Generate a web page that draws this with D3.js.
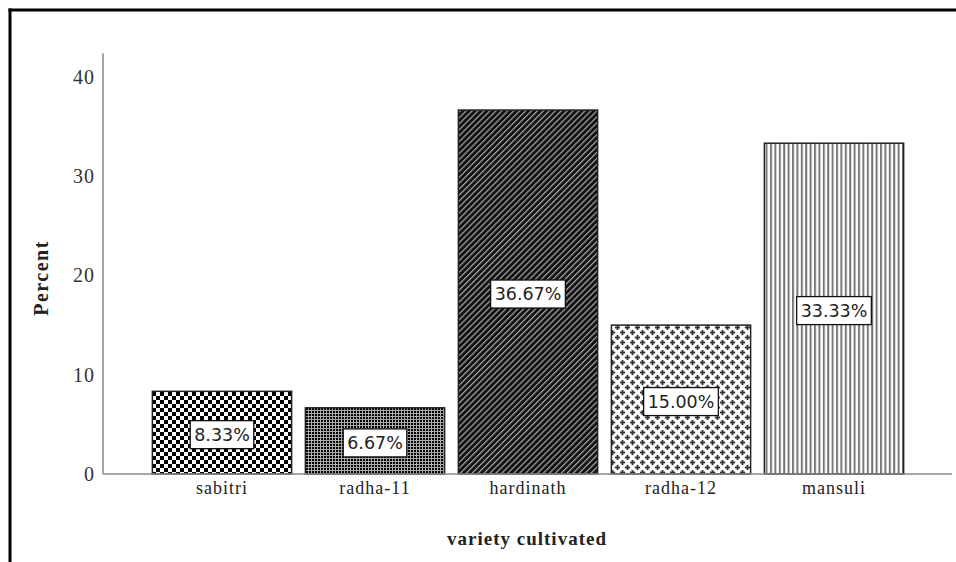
<!DOCTYPE html>
<html>
<head>
<meta charset="utf-8">
<script src="https://cdn.jsdelivr.net/npm/d3@7/dist/d3.min.js"></script>
<style>
html,body{margin:0;padding:0;background:#fff;}
svg{display:block;}
</style>
</head>
<body>
<svg id="chart" width="956" height="562"></svg>
<script>
const categories = ["sabitri", "radha-11", "hardinath", "radha-12", "mansuli"];
const percents = [8.33, 6.67, 36.67, 15.00, 33.33];
const barLabels = ["8.33%", "6.67%", "36.67%", "15.00%", "33.33%"];
const yTicks = [0, 10, 20, 30, 40];
const patternIds = ["pChecker", "pGrid", "pDiag", "pCross", "pVert"];

const svg = d3.select("#chart");
const defs = svg.append("defs");

// checkerboard
let p = defs.append("pattern").attr("id","pChecker").attr("patternUnits","userSpaceOnUse").attr("width",8).attr("height",8);
p.append("rect").attr("width",8).attr("height",8).attr("fill","#fff");
p.append("rect").attr("width",4).attr("height",4).attr("fill","#000");
p.append("rect").attr("x",4).attr("y",4).attr("width",4).attr("height",4).attr("fill","#000");
// fine grid
p = defs.append("pattern").attr("id","pGrid").attr("patternUnits","userSpaceOnUse").attr("width",3).attr("height",3);
p.append("rect").attr("width",3).attr("height",3).attr("fill","#aaa");
p.append("rect").attr("width",2).attr("height",2).attr("fill","#000");
// diagonal
p = defs.append("pattern").attr("id","pDiag").attr("patternUnits","userSpaceOnUse").attr("width",4.2).attr("height",4.2).attr("patternTransform","rotate(45)");
p.append("rect").attr("width",4.2).attr("height",4.2).attr("fill","#111");
p.append("rect").attr("x",0).attr("width",1.2).attr("height",4.2).attr("fill","#aaa");
// crosses
p = defs.append("pattern").attr("id","pCross").attr("patternUnits","userSpaceOnUse").attr("width",10).attr("height",10);
p.append("rect").attr("width",10).attr("height",10).attr("fill","#fff");
[[2.5,2.5],[7.5,7.5]].forEach(([cx,cy])=>{
  p.append("rect").attr("x",cx-2.7).attr("y",cy-0.9).attr("width",5.4).attr("height",1.8).attr("fill","#333");
  p.append("rect").attr("x",cx-0.9).attr("y",cy-2.7).attr("width",1.8).attr("height",5.4).attr("fill","#333");
});
// vertical
p = defs.append("pattern").attr("id","pVert").attr("patternUnits","userSpaceOnUse").attr("width",4.4).attr("height",4);
p.append("rect").attr("width",4.4).attr("height",4).attr("fill","#fff");
p.append("rect").attr("x",0).attr("width",2).attr("height",4).attr("fill","#777");

// frame
svg.append("line").attr("x1",10).attr("x2",10).attr("y1",8.5).attr("y2",562).attr("stroke","#000").attr("stroke-width",3);
svg.append("line").attr("x1",8.5).attr("x2",956).attr("y1",10).attr("y2",10).attr("stroke","#000").attr("stroke-width",3);

const x = d3.scaleBand().domain(categories).range([145.5, 910.5]).paddingInner(0.09).paddingOuter(0.045);
const y = d3.scaleLinear().domain([0, 40]).range([474, 77]);

// bars
const g = svg.append("g");
categories.forEach((c,i)=>{
  g.append("rect")
    .attr("x", x(c)).attr("y", y(percents[i]))
    .attr("width", x.bandwidth()).attr("height", y(0)-y(percents[i]))
    .attr("fill", `url(#${patternIds[i]})`)
    .attr("stroke", "#222").attr("stroke-width", 1.5);
});

// axes lines
svg.append("line").attr("x1",103).attr("x2",103).attr("y1",y(42.4)).attr("y2",y(0)).attr("stroke","#888").attr("stroke-width",1.5);
svg.append("line").attr("x1",103).attr("x2",952).attr("y1",y(0)).attr("y2",y(0)).attr("stroke","#888").attr("stroke-width",1.5);

// y tick labels
const yAxis = d3.axisLeft(y).tickValues(yTicks).tickSize(0).tickPadding(0);
const ya = svg.append("g").attr("transform","translate(95,0)").call(yAxis);
ya.select(".domain").remove();
ya.selectAll("text").attr("font-family","Liberation Serif").attr("font-size",20).attr("letter-spacing",1).attr("fill","#333");

// x tick labels
const xAxis = d3.axisBottom(x).tickSize(0).tickPadding(0);
const xa = svg.append("g").attr("transform","translate(0,478)").call(xAxis);
xa.select(".domain").remove();
xa.selectAll("text").attr("font-family","Liberation Serif").attr("font-size",18).attr("letter-spacing",1).attr("fill","#222").attr("dy","0.9em");

// bar labels
categories.forEach((c,i)=>{
  const cx = x(c) + x.bandwidth()/2;
  const cy = (y(percents[i]) + y(0))/2 + 2;
  const lg = svg.append("g");
  const t = lg.append("text").attr("x",cx).attr("y",cy).attr("text-anchor","middle").attr("dominant-baseline","central")
    .attr("font-family","DejaVu Sans").attr("font-size",17.5).attr("fill","#222").text(barLabels[i]);
  const bb = t.node().getBBox();
  lg.insert("rect","text").attr("x",bb.x-4).attr("y",cy-14).attr("width",bb.width+8).attr("height",28)
    .attr("fill","#fff").attr("stroke","#111").attr("stroke-width",1.3);
});

// axis titles
svg.append("text").attr("x",527).attr("y",545).attr("text-anchor","middle")
  .attr("font-family","Liberation Serif").attr("font-weight","bold").attr("font-size",19).attr("letter-spacing",1).attr("fill","#222").text("variety cultivated");
svg.append("text").attr("transform","translate(48,278) rotate(-90)").attr("text-anchor","middle")
  .attr("font-family","Liberation Serif").attr("font-weight","bold").attr("font-size",20).attr("letter-spacing",1.5).attr("fill","#222").text("Percent");
</script>
</body>
</html>
